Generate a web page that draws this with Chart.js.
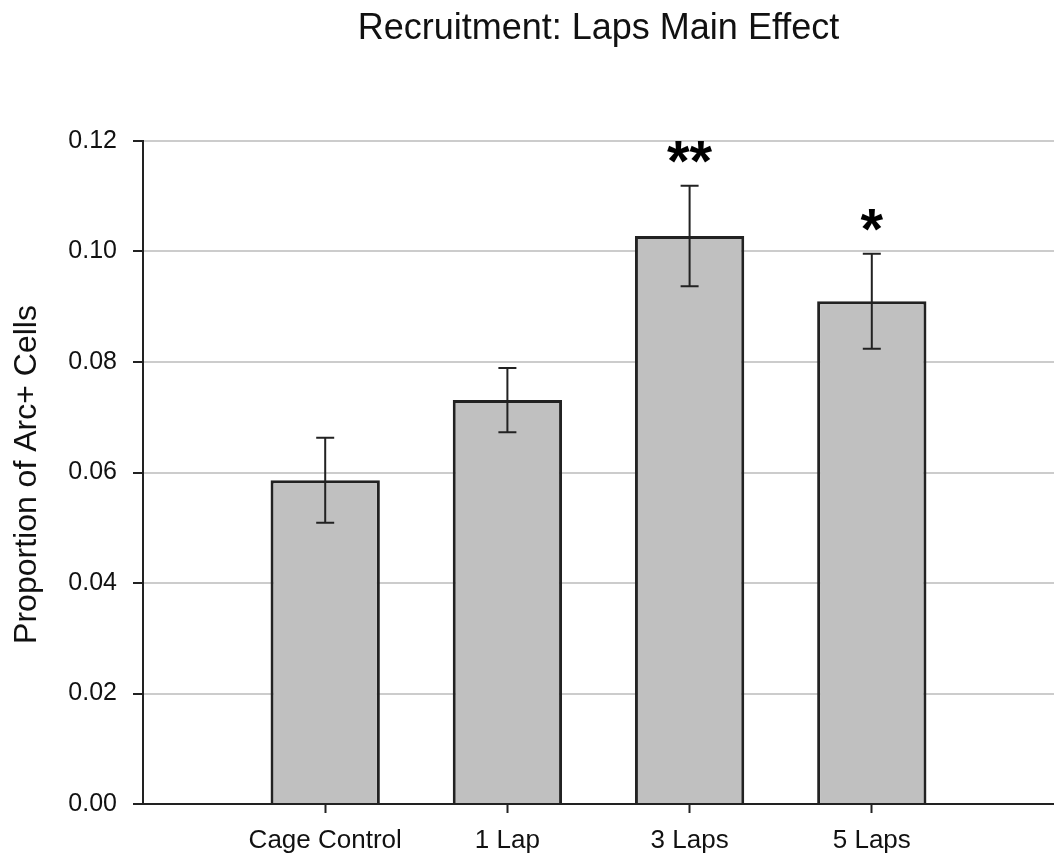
<!DOCTYPE html>
<html>
<head>
<meta charset="utf-8">
<script src="https://cdn.jsdelivr.net/npm/chart.js@4/dist/chart.umd.min.js"></script>
<style>
    html, body { margin: 0; padding: 0; background: #fff; }
    .chart-container { position: relative; width: 1054px; height: 858px; }
</style>
</head>
<body>
<div class="chart-container"><canvas id="lapsChart"></canvas></div>
<script>
// Data
const categories = ['Cage Control', '1 Lap', '3 Laps', '5 Laps'];
const meanValues = [0.0586, 0.0731, 0.1028, 0.0910];
const errValues = [0.0077, 0.0058, 0.0091, 0.0086];
const sigMarks = ['', '', '**', '*'];
const yTicks = [0, 0.02, 0.04, 0.06, 0.08, 0.10, 0.12];

const chartTitle = 'Recruitment: Laps Main Effect';
const yTitle = 'Proportion of Arc+ Cells';

// empty slot on each side so bars sit where the original puts them
const labels = [''].concat(categories, ['']);
const barData = [null].concat(meanValues, [null]);

const ink = '#222';
const fontFamily = '"Liberation Sans", Arial, sans-serif';

// Error bars, significance stars and titles
const extrasPlugin = {
    id: 'extras',
    afterDatasetsDraw(chart) {
        const c = chart.ctx;
        const yScale = chart.scales.y;
        const meta = chart.getDatasetMeta(0);
        c.save();
        c.strokeStyle = ink;
        c.lineWidth = 2;
        meanValues.forEach((v, i) => {
            const bar = meta.data[i + 1];
            const x = bar.x;
            const yTop = yScale.getPixelForValue(v + errValues[i]);
            const yBot = yScale.getPixelForValue(v - errValues[i]);
            c.beginPath();
            c.moveTo(x, yTop); c.lineTo(x, yBot);
            c.moveTo(x - 9, yTop); c.lineTo(x + 9, yTop);
            c.moveTo(x - 9, yBot); c.lineTo(x + 9, yBot);
            c.stroke();

            if (sigMarks[i]) {
                c.fillStyle = '#000';
                c.font = 'bold 58px ' + fontFamily;
                c.textAlign = 'center';
                c.textBaseline = 'alphabetic';
                const m = c.measureText(sigMarks[i]);
                // centre the glyph box ~34px above the error cap
                const centre = yTop - 34;
                const base = centre + (m.actualBoundingBoxAscent - m.actualBoundingBoxDescent) / 2;
                c.fillText(sigMarks[i], x, base);
            }
        });
        c.restore();
    },
    afterDraw(chart) {
        const c = chart.ctx;
        const area = chart.chartArea;
        c.save();
        c.fillStyle = '#111';
        c.textAlign = 'center';
        c.textBaseline = 'middle';
        c.font = '36px ' + fontFamily;
        c.fillText(chartTitle, (area.left + area.right) / 2, 29);

        c.translate(27, (area.top + area.bottom) / 2 + 2);
        c.rotate(-Math.PI / 2);
        c.font = '32px ' + fontFamily;
        c.fillText(yTitle, 0, 0);
        c.restore();
    }
};

const ctx = document.getElementById('lapsChart').getContext('2d');
const lapsChart = new Chart(ctx, {
    type: 'bar',
    data: {
        labels: labels,
        datasets: [{
            data: barData,
            backgroundColor: '#c0c0c0',
            borderColor: ink,
            borderWidth: 3,
            borderSkipped: 'bottom',
            categoryPercentage: 1,
            barPercentage: 0.6
        }]
    },
    options: {
        responsive: true,
        maintainAspectRatio: false,
        animation: false,
        layout: { autoPadding: false, padding: { top: 141, left: 0, right: 0, bottom: 0 } },
        plugins: {
            legend: { display: false },
            title: { display: false },
            tooltip: { enabled: false }
        },
        scales: {
            x: {
                offset: false,
                grid: {
                    offset: false,
                    drawOnChartArea: false,
                    tickLength: 9,
                    tickWidth: 2,
                    tickColor: (c) => (c.index >= 1 && c.index <= categories.length) ? ink : 'rgba(0,0,0,0)'
                },
                border: { color: ink, width: 2 },
                ticks: {
                    autoSkip: false,
                    maxRotation: 0,
                    padding: 12,
                    color: '#111',
                    font: { family: fontFamily, size: 26 }
                },
                afterFit(scale) {
                    scale.height = 54;
                    // plot runs right to the canvas edge in the original
                    scale.paddingLeft = 0;
                    scale.paddingRight = 0;
                }
            },
            y: {
                min: 0,
                max: 0.12,
                afterBuildTicks(scale) { scale.ticks = yTicks.map(v => ({ value: v })); },
                grid: {
                    color: '#cccccc',
                    lineWidth: 2,
                    tickLength: 10,
                    tickWidth: 2,
                    tickColor: ink
                },
                border: { color: ink, width: 2 },
                ticks: {
                    padding: 16,
                    color: '#111',
                    font: { family: fontFamily, size: 25 },
                    callback: (v) => Number(v).toFixed(2)
                },
                afterFit(scale) { scale.width = 143; }
            }
        }
    },
    plugins: [extrasPlugin]
});
</script>
</body>
</html>
